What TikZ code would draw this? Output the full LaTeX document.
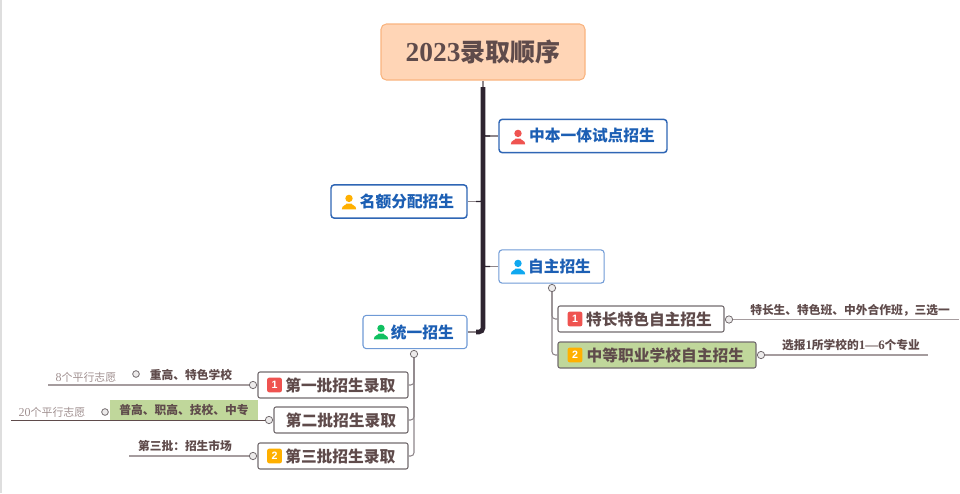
\documentclass[tikz,border=0pt]{standalone}
\usepackage{fontspec}
\usetikzlibrary{calc}
\setmainfont{Noto Sans CJK SC}
\newfontfamily\numfont[Scale=1.1]{Liberation Serif}
\newfontfamily\badgefont{Liberation Sans}
\definecolor{inkbrown}{HTML}{5F4B4B}
\definecolor{inkblue}{HTML}{1C5FB4}
\definecolor{paleink}{HTML}{A09090}
\definecolor{stemgray}{HTML}{8E868A}
\definecolor{rulegray}{HTML}{A59C9E}
\definecolor{foldfill}{HTML}{EDEBEB}
\definecolor{spinedark}{HTML}{2E2430}
\definecolor{rootfill}{HTML}{FFD5B6}
\definecolor{rootedge}{HTML}{F9B47F}
\definecolor{topicedge}{HTML}{2F66B5}
\definecolor{softedge}{HTML}{6F9AD6}
\definecolor{leafgreen}{HTML}{C0D79B}
\definecolor{badgered}{HTML}{EF5350}
\definecolor{badgeamber}{HTML}{FFB000}
\definecolor{iconblue}{HTML}{0FA8F0}
\definecolor{icongreen}{HTML}{10C060}
\newcommand{\iconpad}[1]{\hspace*{#1pt}}
\tikzset{
  rootbox/.style={draw=rootedge, fill=rootfill, line width=0.8pt, rounded corners=4pt, minimum width=153pt, minimum height=42pt, inner sep=0pt, font=\fontsize{18.7}{20}\selectfont\bfseries, text=inkbrown},
  topic/.style={draw=topicedge, fill=white, line width=1.1pt, rounded corners=2.5pt, minimum height=25pt, inner sep=0pt, font=\fontsize{11.8}{14}\selectfont\bfseries, text=inkblue},
  softtopic/.style={topic, draw=softedge, line width=0.8pt},
  batch/.style={draw=stemgray!80!black, fill=white, line width=0.8pt, rounded corners=1.5pt, minimum height=19.5pt, inner sep=0pt, font=\fontsize{11.8}{14}\selectfont\bfseries, text=inkbrown},
  note/.style={inner sep=0pt, font=\fontsize{8.8}{10}\selectfont\bfseries, text=inkbrown},
  palenote/.style={inner sep=0pt, font=\fontsize{8.2}{10}\selectfont, text=paleink},
  fold/.style={circle, draw=stemgray!80!black, fill=foldfill, line width=0.6pt, minimum size=5.5pt, inner sep=0pt},
  badge/.style={rounded corners=1.5pt, minimum size=11pt, inner sep=0pt, text=white, font=\badgefont\fontsize{8}{9}\selectfont\bfseries},
  stem/.style={draw=stemgray, line width=0.8pt},
  branch/.style={stem, rounded corners=2.5pt},
  rule/.style={draw=rulegray, line width=1.1pt},
  spine/.style={draw=spinedark, line width=3.4pt, rounded corners=3pt},
  hook/.style={draw=spinedark, line width=0.9pt, rounded corners=2pt},
  person/.pic={
    \fill (0,-3.6) circle (3.7);
    \fill (-7.2,7.4) .. controls (-7.2,3.2) and (-3,3.4) .. (-2.4,1.6) -- (2.4,1.6) .. controls (3,3.4) and (7.2,3.2) .. (7.2,7.4) -- cycle;
  }
}
\begin{document}
\begin{tikzpicture}[x=0.75pt, y=-0.75pt]
    \useasboundingbox (0,0) rectangle (960,493);
    \fill[black!13] (0,0) rectangle (2,493);

    % centre
    \node[rootbox] (root) at (483,52) {{\numfont 2023}录取顺序};
    \coordinate (spinetop) at (483,87);
    \coordinate (spineend) at (476,332);

    % four topics
    \node[topic, minimum width=126pt] (zbyt) at (583,136) {\iconpad{13.5}中本一体试点招生};
    \node[topic, minimum width=102pt] (mefp) at (399,201.5) {\iconpad{12}名额分配招生};
    \node[softtopic, minimum width=79pt] (zzzs) at (551.5,266.5) {\iconpad{12}自主招生};
    \node[softtopic, minimum width=78pt] (tyzs) at (415,332) {\iconpad{11}统一招生};

    \pic[badgered] at (518,137) {person};
    \pic[badgeamber] at (349,202) {person};
    \pic[iconblue] at (518,267) {person};
    \pic[icongreen] at (381,332) {person};

    \draw[stem] (root.south) -- (spinetop);
    \draw[stem] (zbyt.west) -- (zbyt.west -| spinetop);
    \draw[stem] (mefp.east) -- (mefp.east -| spinetop);
    \draw[stem] (zzzs.west) -- (zzzs.west -| spinetop);
    \draw[stem] (tyzs.east) -- (spineend);
    \draw[spine] (spinetop) |- (spineend);
    \draw[hook] ($(zbyt.west -| spinetop)+(0,-5)$) |- ++(7,5);
    \draw[hook] ($(mefp.east -| spinetop)+(0,-5)$) |- ++(-7,5);
    \draw[hook] ($(zzzs.west -| spinetop)+(0,-5)$) |- ++(7,5);

    % right side
    \node[batch, minimum width=124.5pt] (tczz) at (641,319) {\iconpad{12}特长特色自主招生};
    \node[batch, fill=leafgreen, minimum width=148.5pt] (zdzy) at (657,355) {\iconpad{12.5}中等职业学校自主招生};
    \node[badge, fill=badgered] (tczzno) at (575,319) {1};
    \node[badge, fill=badgeamber] (zdzyno) at (575,355) {2};
    \node[fold] (zzfold) at (552,288) {};
    \draw[branch] (zzfold) |- (tczz.west);
    \draw[branch] (zzfold) |- (zdzy.west);

    \node[fold] (tcfold) at (729,319.5) {};
    \node[fold] (zdfold) at (761,355) {};
    \coordinate (tcend) at (959,319.5);
    \coordinate (zdend) at (928,355);
    \draw[rule] (tcfold) -- (tcend);
    \draw[rule] (zdfold) -- (zdend);
    \node[note] (tcnote) at (850,310) {特长生、特色班、中外合作班，三选一};
    \node[note] (zdnote) at (851,345) {选报{\numfont 1}所学校的{\numfont 1—6}个专业};

    % left side
    \node[batch, minimum width=112.5pt] (pici1) at (333,385) {\iconpad{11}第一批招生录取};
    \node[batch, minimum width=100.5pt] (pici2) at (341,420) {第二批招生录取};
    \node[batch, minimum width=112.5pt] (pici3) at (333,456) {\iconpad{11}第三批招生录取};
    \node[badge, fill=badgered] (pici1no) at (274.5,385) {1};
    \node[badge, fill=badgeamber] (pici3no) at (274.5,456) {2};
    \node[fold] (tyfold) at (414,354) {};
    \draw[branch] (tyfold) |- (pici1.east);
    \draw[branch] (tyfold) |- (pici2.east);
    \draw[branch] (tyfold) |- (pici3.east);

    \node[fold] (p1fold) at (253,385) {};
    \node[fold] (p2fold) at (269,420) {};
    \node[fold] (p3fold) at (253,456) {};
    \coordinate (p1end) at (48,385);
    \coordinate (p2end) at (11,420);
    \coordinate (p3end) at (129,456);

    \node[note, fill=leafgreen, minimum width=111pt, minimum height=15pt] (p2note) at (184,410) {普高、职高、技校、中专};
    \draw[rule] (p1fold) -- (p1end);
    \draw[rule, draw=inkbrown, line width=0.7pt] (p2fold) -- (p2end);
    \draw[rule] (p3fold) -- (p3end);

    \node[note] (p1note) at (191,375) {重高、特色学校};
    \node[note] (p3note) at (185,446) {第三批：招生市场};
    \node[palenote] (p1pale) at (86,377) {{\numfont 8}个平行志愿};
    \node[palenote] (p2pale) at (52,412) {{\numfont 20}个平行志愿};
    \node[fold, minimum size=5pt] (p1mark) at (136,374) {};
    \node[fold, minimum size=5pt] (p2mark) at (105,412) {};
\end{tikzpicture}
\end{document}
